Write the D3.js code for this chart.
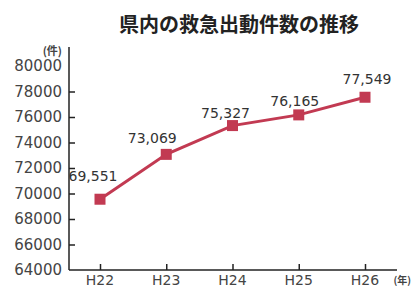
<!DOCTYPE html>
<html>
<head>
<meta charset="utf-8">
<script src="https://cdn.jsdelivr.net/npm/d3@7"></script>
<style>
  body { margin: 0; background: #fff; }
</style>
</head>
<body>
<svg width="413" height="287"></svg>
<script>
const years = ["H22", "H23", "H24", "H25", "H26"];
const counts = [69551, 73069, 75327, 76165, 77549];
const yTicks = [64000, 66000, 68000, 70000, 72000, 74000, 76000, 78000, 80000];
const title = "県内の救急出動件数の推移";

const data = years.map((y, i) => ({year: y, value: counts[i]}));

var svg = d3.select("svg"),
    leftX = 69,
    rightX = 397,
    topY = 66,
    bottomY = 270;

const font = "'DejaVu Sans', sans-serif";
const jp = "'Noto Sans CJK JP', sans-serif";
const red = "#c23a52";

var xScale = d3.scalePoint(years, [100, 365]);
var yScale = d3.scaleLinear([64000, 80000], [bottomY, topY]);

// title
svg.append("text")
    .attr("x", 239).attr("y", 32)
    .attr("text-anchor", "middle")
    .attr("font-family", jp)
    .attr("font-weight", "bold")
    .attr("font-size", 20)
    .attr("fill", "#222")
    .text(title);

// y axis
var gy = svg.append("g")
    .attr("transform", "translate(" + leftX + ",0)")
    .call(d3.axisRight(yScale).tickValues(yTicks).tickSize(6).tickFormat(""));
gy.select(".domain").attr("d", "M0,47V" + bottomY).attr("stroke", "#222").attr("stroke-width", 1.5);
gy.selectAll(".tick line").attr("stroke", "#222").attr("stroke-width", 1.5)
    .filter(d => d === 80000 || d === 64000).remove();

svg.append("g").selectAll("text")
    .data(yTicks).enter().append("text")
    .attr("x", 62)
    .attr("y", d => yScale(d))
    .attr("dy", "0.36em")
    .attr("text-anchor", "end")
    .attr("font-family", font)
    .attr("font-size", 15)
    .attr("fill", "#444")
    .text(d => d);

svg.append("text")
    .attr("x", 62).attr("y", 55)
    .attr("text-anchor", "end")
    .attr("font-family", jp)
    .attr("font-weight", "bold")
    .attr("font-size", 11)
    .attr("fill", "#444")
    .text("(件)");

// x axis
var gx = svg.append("g")
    .attr("transform", "translate(0," + bottomY + ")")
    .call(d3.axisTop(xScale).tickSize(6).tickFormat(""));
gx.select(".domain").attr("d", "M" + leftX + ",0H" + rightX).attr("stroke", "#222").attr("stroke-width", 1.5);
gx.selectAll(".tick line").attr("stroke", "#222").attr("stroke-width", 1.5);

svg.append("g").selectAll("text")
    .data(years).enter().append("text")
    .attr("x", d => xScale(d))
    .attr("y", 285)
    .attr("text-anchor", "middle")
    .attr("font-family", font)
    .attr("font-size", 14)
    .attr("fill", "#444")
    .text(d => d);

svg.append("text")
    .attr("x", 411).attr("y", 284)
    .attr("text-anchor", "end")
    .attr("font-family", jp)
    .attr("font-weight", "bold")
    .attr("font-size", 10)
    .attr("fill", "#444")
    .text("(年)");

// line
var line = d3.line()
    .x(d => xScale(d.year))
    .y(d => yScale(d.value));

svg.append("path")
    .datum(data)
    .attr("d", line)
    .attr("fill", "none")
    .attr("stroke", red)
    .attr("stroke-width", 3);

svg.selectAll(".pt")
    .data(data).enter().append("rect")
    .attr("class", "pt")
    .attr("x", d => xScale(d.year) - 5.5)
    .attr("y", d => yScale(d.value) - 5.5)
    .attr("width", 11)
    .attr("height", 11)
    .attr("fill", red);

// value labels
const labelDx = [-7, -14, -7, -4, 2];
const labelDy = [-18, -11, -8, -9, -13];
svg.selectAll(".lbl")
    .data(data).enter().append("text")
    .attr("class", "lbl")
    .attr("x", (d, i) => xScale(d.year) + labelDx[i])
    .attr("y", (d, i) => yScale(d.value) + labelDy[i])
    .attr("text-anchor", "middle")
    .attr("font-family", font)
    .attr("font-size", 14)
    .attr("fill", "#333")
    .text(d => d3.format(",")(d.value));
</script>
</body>
</html>
